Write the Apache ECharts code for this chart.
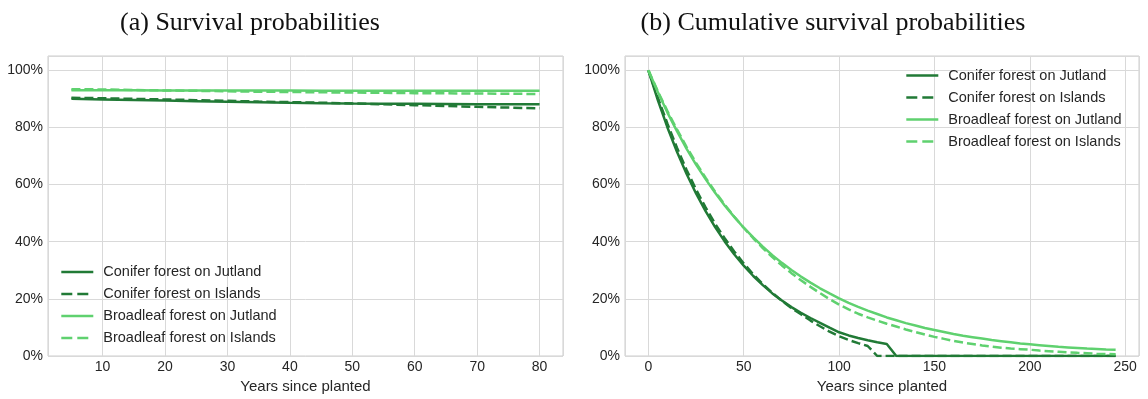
<!DOCTYPE html>
<html>
<head>
<meta charset="utf-8">
<script src="https://cdn.jsdelivr.net/npm/echarts@6/dist/echarts.min.js"></script>
<style>
html,body{margin:0;padding:0;background:#fff;}
#chart{width:1148px;height:399px;}
</style>
</head>
<body>
<div id="chart"></div>
<script>
// ---- Data ----
const seriesNames = ['Conifer forest on Jutland', 'Conifer forest on Islands', 'Broadleaf forest on Jutland', 'Broadleaf forest on Islands'];
const titleA = '(a) Survival probabilities';
const titleB = '(b) Cumulative survival probabilities';
const xAxisName = 'Years since planted';

// (a) survival probabilities (%)
const yearsA = [5,10,15,20,25,30,35,40,45,50,55,60,65,70,75,80];
const coniferJutlandA = [90.0,89.8,89.6,89.4,89.2,89.0,88.8,88.6,88.45,88.35,88.3,88.25,88.2,88.15,88.1,88.1];
const coniferIslandsA = [90.4,90.2,90.0,89.8,89.55,89.3,89.05,88.85,88.65,88.4,88.1,87.8,87.5,87.2,86.95,86.7];
const broadleafJutlandA = [93.0,93.0,93.0,92.95,92.95,92.9,92.9,92.9,92.85,92.85,92.85,92.8,92.8,92.8,92.8,92.8];
const broadleafIslandsA = [93.4,93.3,93.1,92.95,92.8,92.65,92.5,92.4,92.3,92.2,92.1,92.0,91.95,91.85,91.8,91.7];

// (b) cumulative survival probabilities (%)
const yearsB = [0,5,10,15,20,25,30,35,40,45,50,55,60,65,70,75,80,85,90,95,100,105,110,115,120,125,130,135,140,145,150,155,160,165,170,175,180,185,190,195,200,205,210,215,220,225,230,235,240,245];
const coniferJutlandB = [100,89.5,80.0,71.5,63.8,56.9,50.7,45.1,40.1,35.6,31.6,28.0,24.8,21.9,19.4,17.1,15.1,13.3,11.6,9.9,8.3,7.2,6.3,5.5,4.8,4.2,0,0,0,0,0,0,0,0,0,0,0,0,0,0,0,0,0,0,0,0,0,0,0,0];
const coniferIslandsB = [100,90.4,81.3,72.9,65.2,58.3,52.0,46.3,41.2,36.6,32.4,28.6,25.2,22.1,19.3,16.8,14.6,12.4,10.4,8.5,6.9,5.6,4.5,3.5,0,0,0,0,0,0,0,0,0,0,0,0,0,0,0,0,0,0,0,0,0,0,0,0,0,0];
const broadleafJutlandB = [100,92.3,85.2,78.7,72.6,67.0,61.9,57.1,52.7,48.7,44.9,41.5,38.3,35.3,32.6,30.1,27.8,25.7,23.7,21.9,20.2,18.6,17.2,15.9,14.7,13.5,12.5,11.5,10.7,9.8,9.1,8.4,7.7,7.1,6.6,6.1,5.6,5.2,4.8,4.4,4.1,3.8,3.5,3.2,3.0,2.8,2.6,2.45,2.3,2.2];
const broadleafIslandsB = [100,92.6,85.7,79.3,73.2,67.6,62.4,57.5,53.0,48.8,44.9,41.2,37.8,34.6,31.7,29.0,26.5,24.2,22.0,19.9,18.0,16.3,14.8,13.5,12.4,11.3,10.3,9.3,8.4,7.5,6.7,6.0,5.3,4.7,4.2,3.7,3.3,2.9,2.6,2.4,2.2,1.9,1.7,1.5,1.3,1.1,1.0,0.8,0.7,0.6];

// ---- Styles ----
const DARK = '#217a36';
const LIGHT = '#5fd16f';
const colors = [DARK, DARK, LIGHT, LIGHT];
const dashed = [false, true, false, true];
const TXT = '#262626';
const GRID = '#d9d9d9';
const FONT = 'Liberation Sans, Arial, sans-serif';

function zip(xs, ys){ return xs.map((x,i)=>[x, ys[i]]); }

const dataA = [coniferJutlandA, coniferIslandsA, broadleafJutlandA, broadleafIslandsA];
const dataB = [coniferJutlandB, coniferIslandsB, broadleafJutlandB, broadleafIslandsB];

function mkSeries(dataSets, xs, idx){
  return dataSets.map((d,i)=>({
    name: seriesNames[i],
    type: 'line',
    xAxisIndex: idx, yAxisIndex: idx,
    data: zip(xs, d),
    symbol: 'none', showSymbol: false,
    animation: false,
    color: colors[i],
    lineStyle: {color: colors[i], width: 2.5, type: dashed[i] ? [9,4] : 'solid'},
    emphasis: {disabled: true}
  }));
}

function xAxis(idx, min, max, splitNumber){
  return {
    type: 'value', gridIndex: idx, min: min, max: max, splitNumber: splitNumber,
    name: xAxisName, nameLocation: 'middle', nameGap: 17,
    nameTextStyle: {color: TXT, fontFamily: FONT, fontSize: 15},
    axisLine: {show: false}, axisTick: {show: false},
    axisLabel: {color: TXT, fontFamily: FONT, fontSize: 14, margin: 4,
      formatter: v => (Math.abs(v - Math.round(v/10)*10) < 1e-6 ? String(Math.round(v)) : '')},
    splitLine: {show: true, lineStyle: {color: GRID, width: 1}}
  };
}
function yAxis(idx){
  return {
    type: 'value', gridIndex: idx, min: 0, max: 105, interval: 20,
    axisLine: {show: false}, axisTick: {show: false},
    axisLabel: {color: TXT, fontFamily: FONT, fontSize: 14, margin: 5,
      formatter: v => (v % 20 === 0 ? v + '%' : '')},
    splitLine: {show: true, lineStyle: {color: GRID, width: 1}}
  };
}
function legend(left, top){
  return {
    data: seriesNames.map((n,i)=>(dashed[i] ? {name:n, lineStyle: {type: [11,5], width: 2.6}} : {name:n})),
    orient: 'vertical', left: left, top: top,
    itemWidth: 32, itemHeight: 14, itemGap: 7,
    selectedMode: false,
    itemStyle: {opacity: 0},
    lineStyle: {width: 2.6},
    textStyle: {color: TXT, fontFamily: FONT, fontSize: 14.5, lineHeight: 14, padding: [0,0,0,5]}
  };
}

const chart = echarts.init(document.getElementById('chart'), null, {renderer: 'canvas'});
chart.setOption({
  animation: false,
  backgroundColor: '#ffffff',
  title: [
    {text: titleA, left: 245, top: 5, textAlign: 'center',
     textStyle: {fontFamily: 'Liberation Serif, serif', fontWeight: 'normal', fontSize: 26, color: '#111'}},
    {text: titleB, left: 828, top: 5, textAlign: 'center',
     textStyle: {fontFamily: 'Liberation Serif, serif', fontWeight: 'normal', fontSize: 26, color: '#111'}}
  ],
  legend: [legend(55, 259.5), legend(900, 63)],
  grid: [
    {left: 48, top: 56, width: 515, height: 300, show: true, borderColor: '#cccccc', borderWidth: 1, containLabel: false},
    {left: 625, top: 56, width: 514, height: 300, show: true, borderColor: '#cccccc', borderWidth: 1, containLabel: false}
  ],
  xAxis: [xAxis(0, 1.25, 83.75, 8), xAxis(1, -12.25, 257.25, 5)],
  yAxis: [yAxis(0), yAxis(1)],
  series: mkSeries(dataA, yearsA, 0).concat(mkSeries(dataB, yearsB, 1))
});
</script>
</body>
</html>
